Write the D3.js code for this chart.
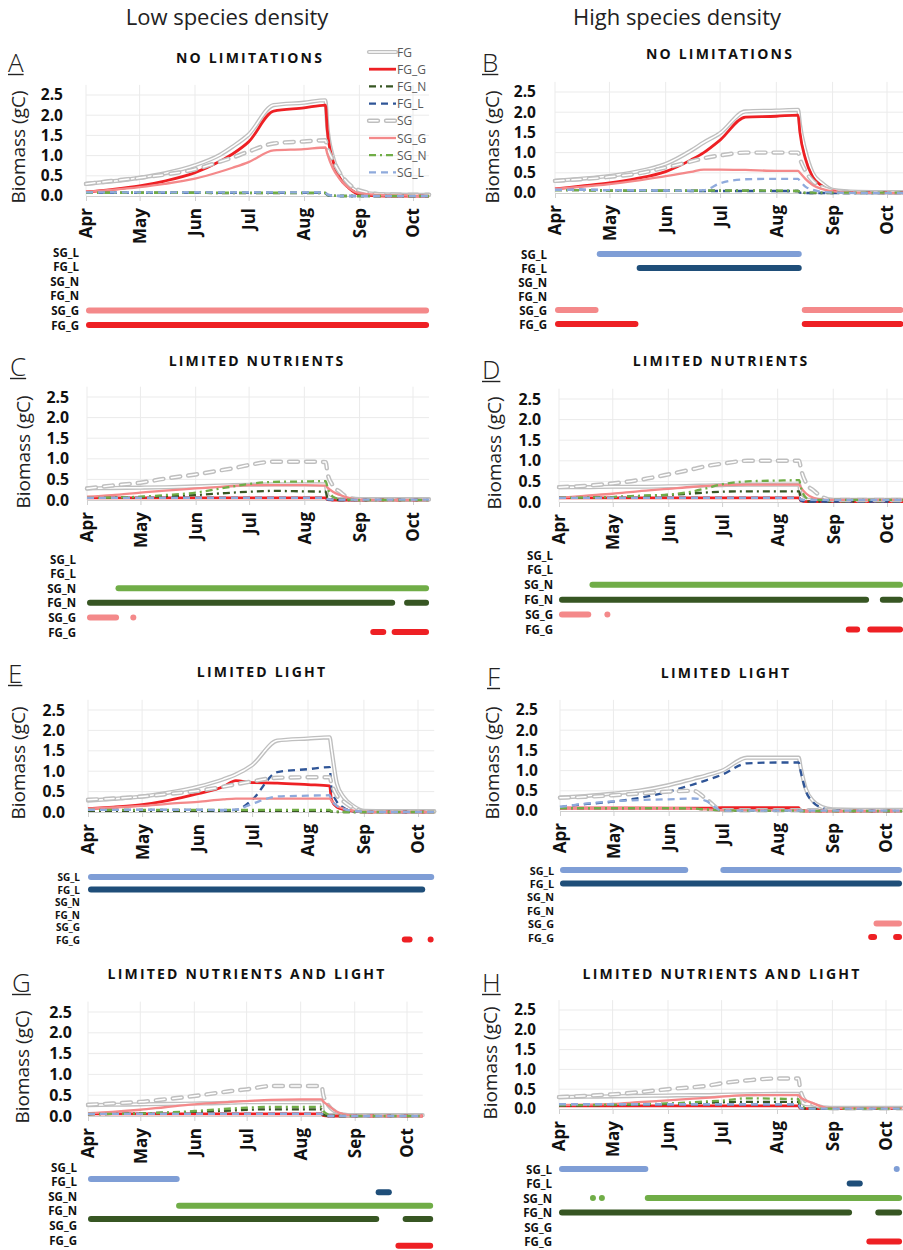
<!DOCTYPE html>
<html>
<head>
<meta charset="utf-8">
<script src="https://cdn.jsdelivr.net/npm/d3@7"></script>
<style>
  body { margin: 0; background: #fff; }
  text { font-family: "Open Sans", sans-serif; }
</style>
</head>
<body>
<svg id="fig" width="903" height="1250"></svg>
<script>
// ---- shared axis data ----
const months = ["Apr", "May", "Jun", "Jul", "Aug", "Sep", "Oct"];
const monthStarts = ["04-01", "05-01", "06-01", "07-01", "08-01", "09-01", "10-01"];
const yTicks = [0, 0.5, 1, 1.5, 2, 2.5];
const sampleDates = ["04-01","04-15","05-01","05-15","06-01","06-15","06-22","07-01","07-15",
  "08-01","08-13","08-14","08-17","08-21","08-26","09-01","09-15","10-01","10-10"];
const seriesNames = ["FG", "FG_G", "FG_N", "FG_L", "SG", "SG_G", "SG_N", "SG_L"];
const rowNames = ["SG_L", "FG_L", "SG_N", "FG_N", "SG_G", "FG_G"];
const columnHeads = ["Low species density", "High species density"];
const titles = ["NO LIMITATIONS", "NO LIMITATIONS", "LIMITED NUTRIENTS", "LIMITED NUTRIENTS",
  "LIMITED LIGHT", "LIMITED LIGHT", "LIMITED NUTRIENTS AND LIGHT", "LIMITED NUTRIENTS AND LIGHT"];

// ---- biomass (gC) per group, one value per sample date ----
const biomassA = {
  FG:   [0.30,0.36,0.45,0.56,0.76,1.02,1.22,1.52,2.25,2.31,2.37,1.75,1.00,0.55,0.28,0.10,0.04,0.03,0.03],
  FG_G: [0.10,0.16,0.25,0.37,0.58,0.86,1.04,1.34,2.10,2.18,2.25,1.65,0.90,0.45,0.20,0.04,0.00,0.00,0.00],
  FG_N: [0.08,0.08,0.08,0.08,0.08,0.07,0.07,0.07,0.07,0.07,0.07,0.02,0.01,0.00,0.00,0.00,0.00,0.00,0.00],
  FG_L: [0.08,0.08,0.08,0.08,0.08,0.08,0.08,0.08,0.08,0.08,0.08,0.03,0.01,0.00,0.00,0.00,0.00,0.00,0.00],
  SG:   [0.30,0.37,0.45,0.53,0.66,0.85,0.95,1.10,1.30,1.35,1.38,1.20,0.90,0.58,0.30,0.14,0.04,0.03,0.03],
  SG_G: [0.10,0.15,0.22,0.30,0.43,0.60,0.70,0.84,1.13,1.16,1.20,1.05,0.70,0.42,0.20,0.07,0.02,0.01,0.01],
  SG_N: [0.08,0.08,0.08,0.08,0.08,0.08,0.08,0.08,0.08,0.08,0.08,0.03,0.01,0.00,0.00,0.00,0.00,0.00,0.00],
  SG_L: [0.09,0.09,0.09,0.09,0.09,0.09,0.09,0.09,0.09,0.09,0.09,0.04,0.01,0.00,0.00,0.00,0.00,0.00,0.00]
};
const biomassB = {
  FG:   [0.30,0.35,0.42,0.52,0.72,1.05,1.25,1.48,2.02,2.04,2.06,1.70,1.05,0.50,0.25,0.08,0.03,0.02,0.02],
  FG_G: [0.10,0.17,0.25,0.35,0.53,0.82,1.00,1.31,1.88,1.90,1.93,1.50,0.85,0.40,0.18,0.05,0.01,0.01,0.01],
  FG_N: [0.07,0.07,0.06,0.06,0.06,0.06,0.06,0.06,0.06,0.05,0.05,0.01,0.00,0.00,0.00,0.00,0.00,0.00,0.00],
  FG_L: [0.08,0.08,0.07,0.06,0.06,0.05,0.05,0.05,0.05,0.05,0.05,0.01,0.00,0.00,0.00,0.00,0.00,0.00,0.00],
  SG:   [0.30,0.34,0.40,0.47,0.63,0.78,0.86,0.93,1.00,1.00,1.00,0.85,0.55,0.30,0.15,0.06,0.02,0.02,0.02],
  SG_G: [0.10,0.15,0.22,0.30,0.42,0.52,0.58,0.58,0.57,0.55,0.55,0.50,0.35,0.20,0.10,0.04,0.01,0.00,0.00],
  SG_N: [0.07,0.07,0.06,0.06,0.06,0.06,0.06,0.06,0.06,0.06,0.05,0.02,0.01,0.01,0.01,0.01,0.01,0.01,0.01],
  SG_L: [0.08,0.08,0.07,0.07,0.06,0.06,0.07,0.24,0.34,0.35,0.35,0.30,0.16,0.08,0.03,0.01,0.00,0.00,0.00]
};
const biomassC = {
  FG:   [0.28,0.29,0.30,0.31,0.33,0.35,0.36,0.37,0.38,0.38,0.38,0.10,0.03,0.02,0.02,0.02,0.02,0.02,0.02],
  FG_G: [0.05,0.05,0.05,0.05,0.05,0.05,0.05,0.05,0.05,0.05,0.05,0.01,0.00,0.00,0.00,0.00,0.00,0.00,0.00],
  FG_N: [0.05,0.06,0.07,0.09,0.12,0.16,0.18,0.20,0.22,0.21,0.20,0.05,0.01,0.00,0.00,0.00,0.00,0.00,0.00],
  FG_L: [0.05,0.05,0.05,0.05,0.05,0.05,0.05,0.05,0.05,0.05,0.05,0.01,0.00,0.00,0.00,0.00,0.00,0.00,0.00],
  SG:   [0.28,0.35,0.42,0.52,0.62,0.72,0.77,0.85,0.93,0.93,0.92,0.65,0.35,0.20,0.05,0.02,0.01,0.01,0.01],
  SG_G: [0.08,0.12,0.18,0.23,0.28,0.32,0.34,0.36,0.36,0.36,0.35,0.30,0.20,0.12,0.05,0.01,0.00,0.00,0.00],
  SG_N: [0.05,0.06,0.08,0.12,0.18,0.28,0.33,0.39,0.44,0.45,0.46,0.30,0.08,0.02,0.01,0.00,0.00,0.00,0.00],
  SG_L: [0.05,0.05,0.05,0.05,0.05,0.05,0.05,0.05,0.05,0.05,0.05,0.02,0.01,0.01,0.01,0.01,0.01,0.01,0.01]
};
const biomassD = {
  FG:   [0.36,0.36,0.37,0.37,0.38,0.39,0.40,0.41,0.42,0.42,0.42,0.12,0.05,0.05,0.05,0.05,0.05,0.05,0.05],
  FG_G: [0.10,0.10,0.10,0.10,0.10,0.10,0.10,0.10,0.10,0.10,0.10,0.03,0.01,0.01,0.01,0.01,0.01,0.01,0.01],
  FG_N: [0.10,0.11,0.12,0.14,0.17,0.21,0.23,0.25,0.26,0.26,0.26,0.08,0.02,0.01,0.01,0.01,0.01,0.01,0.01],
  FG_L: [0.10,0.10,0.10,0.10,0.10,0.10,0.10,0.10,0.10,0.10,0.10,0.03,0.01,0.01,0.01,0.01,0.01,0.01,0.01],
  SG:   [0.36,0.39,0.45,0.53,0.67,0.80,0.87,0.93,1.00,1.00,1.00,0.80,0.45,0.28,0.12,0.05,0.05,0.05,0.05],
  SG_G: [0.10,0.15,0.20,0.26,0.32,0.37,0.39,0.41,0.42,0.42,0.42,0.35,0.20,0.10,0.06,0.05,0.05,0.05,0.05],
  SG_N: [0.10,0.11,0.12,0.15,0.18,0.26,0.33,0.43,0.50,0.52,0.53,0.35,0.10,0.05,0.05,0.05,0.05,0.05,0.05],
  SG_L: [0.10,0.10,0.10,0.10,0.10,0.10,0.10,0.10,0.10,0.10,0.10,0.06,0.05,0.05,0.05,0.05,0.05,0.05,0.05]
};
const biomassE = {
  FG:   [0.28,0.32,0.38,0.47,0.62,0.80,0.92,1.15,1.75,1.80,1.83,1.55,0.70,0.35,0.15,0.03,0.02,0.02,0.02],
  FG_G: [0.08,0.12,0.18,0.28,0.45,0.62,0.77,0.72,0.71,0.67,0.64,0.30,0.12,0.06,0.02,0.00,0.00,0.00,0.00],
  FG_N: [0.03,0.03,0.03,0.03,0.03,0.03,0.03,0.03,0.03,0.03,0.03,0.01,0.00,0.00,0.00,0.00,0.00,0.00,0.00],
  FG_L: [0.05,0.05,0.05,0.05,0.05,0.04,0.05,0.30,0.98,1.05,1.10,0.60,0.25,0.10,0.02,0.00,0.00,0.00,0.00],
  SG:   [0.30,0.33,0.38,0.44,0.52,0.62,0.68,0.75,0.84,0.85,0.85,0.70,0.40,0.25,0.10,0.02,0.01,0.01,0.01],
  SG_G: [0.08,0.11,0.15,0.20,0.25,0.31,0.33,0.33,0.33,0.33,0.33,0.28,0.15,0.08,0.03,0.01,0.00,0.00,0.00],
  SG_N: [0.05,0.05,0.05,0.05,0.05,0.05,0.05,0.05,0.05,0.05,0.05,0.02,0.01,0.00,0.00,0.00,0.00,0.00,0.00],
  SG_L: [0.05,0.05,0.05,0.05,0.05,0.05,0.06,0.20,0.38,0.40,0.41,0.30,0.15,0.07,0.03,0.01,0.00,0.00,0.00]
};
const biomassF = {
  FG:   [0.33,0.37,0.43,0.50,0.64,0.80,0.88,1.00,1.32,1.32,1.32,1.10,0.55,0.25,0.10,0.04,0.03,0.03,0.03],
  FG_G: [0.07,0.07,0.07,0.07,0.07,0.07,0.07,0.08,0.08,0.08,0.08,0.02,0.00,0.00,0.00,0.00,0.00,0.00,0.00],
  FG_N: [0.07,0.07,0.07,0.07,0.07,0.06,0.04,0.02,0.01,0.01,0.01,0.00,0.00,0.00,0.00,0.00,0.00,0.00,0.00],
  FG_L: [0.10,0.17,0.23,0.32,0.48,0.66,0.76,0.90,1.18,1.20,1.20,1.00,0.50,0.22,0.08,0.02,0.00,0.00,0.00],
  SG:   [0.33,0.35,0.39,0.43,0.48,0.50,0.30,0.02,0.02,0.02,0.02,0.02,0.02,0.02,0.02,0.02,0.02,0.02,0.02],
  SG_G: [0.08,0.08,0.08,0.08,0.07,0.06,0.04,0.02,0.02,0.02,0.02,0.01,0.00,0.00,0.00,0.00,0.00,0.00,0.00],
  SG_N: [0.07,0.07,0.07,0.07,0.07,0.06,0.04,0.02,0.01,0.01,0.01,0.00,0.00,0.00,0.00,0.00,0.00,0.00,0.00],
  SG_L: [0.10,0.18,0.24,0.27,0.29,0.31,0.25,0.01,0.01,0.01,0.01,0.01,0.01,0.01,0.01,0.01,0.01,0.01,0.01]
};
const biomassG = {
  FG:   [0.26,0.27,0.28,0.29,0.30,0.31,0.32,0.33,0.33,0.33,0.33,0.05,0.02,0.02,0.02,0.02,0.02,0.02,0.02],
  FG_G: [0.05,0.05,0.05,0.05,0.05,0.05,0.05,0.05,0.05,0.05,0.05,0.01,0.00,0.00,0.00,0.00,0.00,0.00,0.00],
  FG_N: [0.04,0.05,0.06,0.08,0.10,0.12,0.13,0.15,0.16,0.16,0.16,0.03,0.00,0.00,0.00,0.00,0.00,0.00,0.00],
  FG_L: [0.05,0.05,0.05,0.05,0.05,0.05,0.05,0.05,0.05,0.05,0.05,0.01,0.00,0.00,0.00,0.00,0.00,0.00,0.00],
  SG:   [0.27,0.30,0.34,0.40,0.48,0.56,0.60,0.64,0.72,0.72,0.72,0.50,0.25,0.10,0.03,0.01,0.01,0.01,0.01],
  SG_G: [0.07,0.10,0.15,0.21,0.28,0.32,0.34,0.36,0.39,0.40,0.40,0.35,0.25,0.12,0.04,0.01,0.00,0.00,0.00],
  SG_N: [0.05,0.05,0.06,0.08,0.12,0.16,0.18,0.20,0.22,0.22,0.22,0.12,0.03,0.01,0.00,0.00,0.00,0.00,0.00],
  SG_L: [0.05,0.05,0.05,0.05,0.05,0.05,0.05,0.05,0.05,0.05,0.05,0.01,0.00,0.00,0.00,0.00,0.00,0.00,0.00]
};
const biomassH = {
  FG:   [0.30,0.31,0.32,0.33,0.34,0.35,0.35,0.36,0.37,0.38,0.38,0.10,0.05,0.04,0.04,0.03,0.03,0.03,0.03],
  FG_G: [0.08,0.08,0.08,0.08,0.08,0.08,0.08,0.08,0.08,0.08,0.08,0.02,0.01,0.01,0.01,0.01,0.01,0.01,0.01],
  FG_N: [0.08,0.09,0.10,0.11,0.13,0.15,0.16,0.17,0.18,0.18,0.18,0.05,0.01,0.01,0.01,0.01,0.01,0.01,0.01],
  FG_L: [0.12,0.12,0.12,0.12,0.12,0.12,0.12,0.12,0.12,0.12,0.12,0.03,0.01,0.01,0.01,0.01,0.01,0.01,0.01],
  SG:   [0.30,0.33,0.37,0.42,0.50,0.55,0.58,0.65,0.72,0.77,0.77,0.50,0.20,0.12,0.05,0.02,0.02,0.02,0.02],
  SG_G: [0.10,0.11,0.13,0.17,0.22,0.26,0.28,0.31,0.35,0.35,0.35,0.30,0.22,0.15,0.06,0.02,0.02,0.02,0.02],
  SG_N: [0.10,0.10,0.11,0.12,0.14,0.17,0.19,0.21,0.27,0.26,0.25,0.10,0.03,0.01,0.01,0.01,0.01,0.01,0.01],
  SG_L: [0.12,0.12,0.12,0.12,0.12,0.12,0.12,0.12,0.12,0.12,0.12,0.03,0.01,0.01,0.01,0.01,0.01,0.01,0.01]
};

// ---- periods during which each group is limited (start, end) ----
const periodsA = {
  SG_G: [["04-01","10-10"]],
  FG_G: [["04-01","10-10"]]
};
const periodsB = {
  SG_L: [["04-24","08-15"]],
  FG_L: [["05-16","08-15"]],
  SG_G: [["04-01","04-25"], ["08-15","10-10"]],
  FG_G: [["04-01","05-17"], ["08-15","10-10"]]
};
const periodsC = {
  SG_N: [["04-17","10-10"]],
  FG_N: [["04-01","09-21"], ["09-26","10-10"]],
  SG_G: [["04-01","04-19"], ["04-27","04-27"]],
  FG_G: [["09-07","09-16"], ["09-19","10-10"]]
};
const periodsD = {
  SG_N: [["04-18","10-10"]],
  FG_N: [["04-01","09-21"], ["09-27","10-10"]],
  SG_G: [["04-01","04-19"], ["04-28","04-28"]],
  FG_G: [["09-08","09-16"], ["09-20","10-10"]]
};
const periodsE = {
  SG_L: [["04-01","10-10"]],
  FG_L: [["04-01","10-05"]],
  FG_G: [["09-22","09-28"], ["10-08","10-08"]]
};
const periodsF = {
  SG_L: [["04-01","06-12"], ["06-30","10-10"]],
  FG_L: [["04-01","10-10"]],
  SG_G: [["09-24","10-10"]],
  FG_G: [["09-21","09-26"], ["10-05","10-10"]]
};
const periodsG = {
  SG_L: [["04-01","05-22"]],
  FG_L: [["09-08","09-17"]],
  SG_N: [["05-20","10-10"]],
  FG_N: [["04-01","09-10"], ["09-23","10-10"]],
  FG_G: [["09-19","10-10"]]
};
const periodsH = {
  SG_L: [["04-01","05-21"], ["10-07","10-07"]],
  FG_L: [["09-09","09-18"]],
  SG_N: [["04-20","04-20"], ["04-25","04-25"], ["05-19","10-10"]],
  FG_N: [["04-01","09-12"], ["09-25","10-10"]],
  FG_G: [["09-20","10-10"]]
};

// ---- styling ----
const lineStyle = {
  FG:   { color: "#bfbfbf", width: 4.2, dash: null, hollow: true },
  FG_G: { color: "#ee2024", width: 2.8, dash: null },
  FG_N: { color: "#375623", width: 2.3, dash: "7,4,2,4" },
  FG_L: { color: "#2f5597", width: 2.3, dash: "7,5" },
  SG:   { color: "#bfbfbf", width: 4.4, dash: "9,8", hollow: true },
  SG_G: { color: "#f4898a", width: 2.3, dash: null },
  SG_N: { color: "#70ad47", width: 2.3, dash: "7,4,2,4" },
  SG_L: { color: "#8faadc", width: 2.3, dash: "7,5" }
};
const barColor = {
  SG_L: "#7f9ed6", FG_L: "#1f4e79", SG_N: "#70ad47",
  FG_N: "#375623", SG_G: "#f4898a", FG_G: "#ee2024"
};

// ---- panel layout ----
const layout = [
  { letter: "A", data: biomassA, periods: periodsA, legend: true,
    xApr: 86, xOct: 413, y0: 196, y25: 95, tickRight: 63, yTitle: [18, 147], title: [250, 57],
    letterPos: [8, 72], rowX: 79, rowFont: 11.5, labelTop: 252, labelStep: 14.6, barTop: 252, barStep: 14.6 },
  { letter: "B", data: biomassB, periods: periodsB,
    xApr: 555, xOct: 887, y0: 193, y25: 92, tickRight: 536, yTitle: [492, 147], title: [720, 53],
    letterPos: [482, 72], rowX: 547, rowFont: 11.5, labelTop: 254, labelStep: 14, barTop: 254, barStep: 14 },
  { letter: "C", data: biomassC, periods: periodsC,
    xApr: 87, xOct: 413, y0: 500, y25: 397, tickRight: 69, yTitle: [23, 452], title: [257, 360],
    letterPos: [10, 376], rowX: 76, rowFont: 11.5, labelTop: 559, labelStep: 14.6, barTop: 559, barStep: 14.6 },
  { letter: "D", data: biomassD, periods: periodsD,
    xApr: 559, xOct: 887, y0: 502, y25: 399, tickRight: 541, yTitle: [494, 453], title: [721, 360],
    letterPos: [482, 379], rowX: 553, rowFont: 11.5, labelTop: 555, labelStep: 14.9, barTop: 555, barStep: 14.9 },
  { letter: "E", data: biomassE, periods: periodsE,
    xApr: 88, xOct: 418, y0: 812, y25: 710, tickRight: 65, yTitle: [18, 763], title: [262, 671],
    letterPos: [8, 683], rowX: 80, rowFont: 10, labelTop: 877, labelStep: 12.5, barTop: 877, barStep: 12.5 },
  { letter: "F", data: biomassF, periods: periodsF,
    xApr: 560, xOct: 886, y0: 811, y25: 710, tickRight: 538, yTitle: [492, 763], title: [726, 672],
    letterPos: [487, 686], rowX: 554, rowFont: 10.8, labelTop: 870, labelStep: 13.4, barTop: 870, barStep: 13.4 },
  { letter: "G", data: biomassG, periods: periodsG, barXApr: 88, barXOct: 417,
    xApr: 88, xOct: 407, y0: 1116, y25: 1012, tickRight: 72, yTitle: [22, 1067], title: [247, 973],
    letterPos: [12, 992], rowX: 77, rowFont: 11.5, labelTop: 1167, labelStep: 14.6, barTop: 1179, barStep: 13.33 },
  { letter: "H", data: biomassH, periods: periodsH,
    xApr: 559, xOct: 886, y0: 1109, y25: 1010, tickRight: 536, yTitle: [490, 1063], title: [722, 973],
    letterPos: [482, 992], rowX: 552, rowFont: 11.5, labelTop: 1169, labelStep: 14.5, barTop: 1169, barStep: 14.5 }
];

const parseDay = d3.timeParse("%Y-%m-%d");
const day = s => parseDay("2015-" + s);
const dStart = day("04-01"), dOct = day("10-01"), dEnd = day("10-10");
const spanRatio = (dEnd - dStart) / (dOct - dStart);

const svg = d3.select("#fig");
svg.append("rect").attr("width", 903).attr("height", 1250).attr("fill", "#fff");

// column headings
columnHeads.forEach((t, i) => {
  svg.append("text").attr("x", i === 0 ? 227 : 677).attr("y", 25)
    .attr("text-anchor", "middle").attr("font-family", "Roboto, sans-serif")
    .attr("font-size", 22).attr("fill", "#222").text(t);
});

layout.forEach((p, idx) => {
  const g = svg.append("g");
  const x = d3.scaleTime().domain([dStart, dEnd])
    .range([p.xApr, p.xApr + (p.xOct - p.xApr) * spanRatio]);
  const y = d3.scaleLinear().domain([0, 2.5]).range([p.y0, p.y25]);
  const yTop = y(2.75);
  const tickFont = Math.min(16.5, (p.y0 - p.y25) / 5 / 1.3);

  // grid
  g.append("g").selectAll("line").data(yTicks.slice(1)).join("line")
    .attr("x1", x.range()[0]).attr("x2", x.range()[1])
    .attr("y1", d => y(d)).attr("y2", d => y(d))
    .attr("stroke", "#ebebeb").attr("stroke-width", 1);
  g.append("g").selectAll("line").data(monthStarts).join("line")
    .attr("x1", d => x(day(d))).attr("x2", d => x(day(d)))
    .attr("y1", yTop).attr("y2", p.y0)
    .attr("stroke", "#ebebeb").attr("stroke-width", 1);

  // x axis
  const xAxis = d3.axisBottom(x).tickValues(monthStarts.map(day))
    .tickFormat((d, i) => months[i]).tickSize(5).tickSizeOuter(0);
  const xa = g.append("g").attr("transform", `translate(0,${p.y0})`).call(xAxis);
  xa.select(".domain").attr("stroke", "#d0d0d0");
  xa.selectAll(".tick line").attr("stroke", "#d0d0d0");
  xa.selectAll(".tick text")
    .attr("transform", "rotate(-90)")
    .attr("x", -12).attr("y", 0).attr("dy", "0.35em")
    .attr("text-anchor", "end")
    .attr("font-family", "Lato, sans-serif").attr("font-weight", 700)
    .attr("font-size", 17).attr("fill", "#111");

  // y axis labels
  const yAxis = d3.axisLeft(y).tickValues(yTicks).tickFormat(d3.format(".1f")).tickSize(0);
  const ya = g.append("g").attr("transform", `translate(${p.tickRight},0)`).call(yAxis);
  ya.select(".domain").remove();
  ya.selectAll(".tick text").attr("x", 0).attr("text-anchor", "end")
    .attr("font-family", "Lato, sans-serif").attr("font-weight", 700)
    .attr("font-size", tickFont).attr("fill", "#111");

  g.append("text")
    .attr("transform", `translate(${p.yTitle[0]},${p.yTitle[1]}) rotate(-90)`)
    .attr("text-anchor", "middle").attr("dominant-baseline", "central")
    .attr("font-family", "Roboto, sans-serif").attr("font-size", 19).attr("fill", "#222")
    .text("Biomass (gC)");

  // title and panel letter
  g.append("text").attr("x", p.title[0]).attr("y", p.title[1])
    .attr("text-anchor", "middle").attr("dominant-baseline", "central")
    .attr("font-weight", 700).attr("font-size", 14).attr("letter-spacing", 2.2)
    .attr("fill", "#111").text(titles[idx]);
  const lt = g.append("text").attr("x", p.letterPos[0]).attr("y", p.letterPos[1])
    .attr("font-family", "Roboto, sans-serif").attr("font-weight", 300)
    .attr("font-size", 26).attr("fill", "#222").text(p.letter);
  const lw = lt.node().getComputedTextLength();
  g.append("line").attr("x1", p.letterPos[0]).attr("x2", p.letterPos[0] + lw)
    .attr("y1", p.letterPos[1] + 2.5).attr("y2", p.letterPos[1] + 2.5)
    .attr("stroke", "#222").attr("stroke-width", 1.4);

  // biomass curves
  const line = d3.line()
    .x((v, i) => x(day(sampleDates[i])))
    .y(v => y(v))
    .curve(d3.curveMonotoneX);
  seriesNames.forEach(name => {
    const s = lineStyle[name];
    const vals = p.data[name];
    const path = g.append("path").attr("d", line(vals)).attr("fill", "none")
      .attr("stroke", s.color).attr("stroke-width", s.width)
      .attr("stroke-linejoin", "round")
      .attr("stroke-linecap", s.hollow ? "round" : "butt");
    if (s.dash) path.attr("stroke-dasharray", s.dash);
    if (s.hollow) {
      const inner = g.append("path").attr("d", line(vals)).attr("fill", "none")
        .attr("stroke", "#fff").attr("stroke-width", 1.5)
        .attr("stroke-linejoin", "round").attr("stroke-linecap", "round");
      if (s.dash) inner.attr("stroke-dasharray", s.dash);
    }
  });

  // limitation rows
  const xb = p.barXApr
    ? d3.scaleTime().domain([dStart, dEnd]).range([p.barXApr, p.barXApr + (p.barXOct - p.barXApr) * spanRatio])
    : x;
  const barH = 6;
  rowNames.forEach((r, i) => {
    g.append("text").attr("x", p.rowX).attr("y", p.labelTop + i * p.labelStep)
      .attr("text-anchor", "end").attr("dominant-baseline", "central")
      .attr("font-family", "'Liberation Sans', Arial, sans-serif")
      .attr("font-weight", 700).attr("font-size", p.rowFont)
      .attr("fill", "#111").text(r);
    const segs = p.periods[r] || [];
    const cy = p.barTop + i * p.barStep;
    segs.forEach(([s, e]) => {
      let x0 = xb(day(s)), x1 = xb(day(e));
      if (x1 - x0 < barH) { const c = (x0 + x1) / 2; x0 = c - barH / 2; x1 = c + barH / 2; }
      g.append("rect").attr("x", x0).attr("y", cy - barH / 2)
        .attr("width", x1 - x0).attr("height", barH)
        .attr("rx", barH / 2).attr("fill", barColor[r]);
    });
  });

  // legend
  if (p.legend) {
    const lg = g.append("g");
    seriesNames.forEach((name, i) => {
      const s = lineStyle[name];
      const ly = 52 + i * 17.2;
      const seg = lg.append("line").attr("x1", 369).attr("x2", 396).attr("y1", ly).attr("y2", ly)
        .attr("stroke", s.color).attr("stroke-width", s.width)
        .attr("stroke-linecap", s.hollow ? "round" : "butt");
      if (s.dash) seg.attr("stroke-dasharray", s.dash);
      if (s.hollow) {
        const inner = lg.append("line").attr("x1", 369).attr("x2", 396).attr("y1", ly).attr("y2", ly)
          .attr("stroke", "#fff").attr("stroke-width", 1.5).attr("stroke-linecap", "round");
        if (s.dash) inner.attr("stroke-dasharray", s.dash);
      }
      lg.append("text").attr("x", 397).attr("y", ly).attr("dominant-baseline", "central")
        .attr("font-size", 12).attr("fill", "#595959").text(name);
    });
  }
});
</script>
</body>
</html>
